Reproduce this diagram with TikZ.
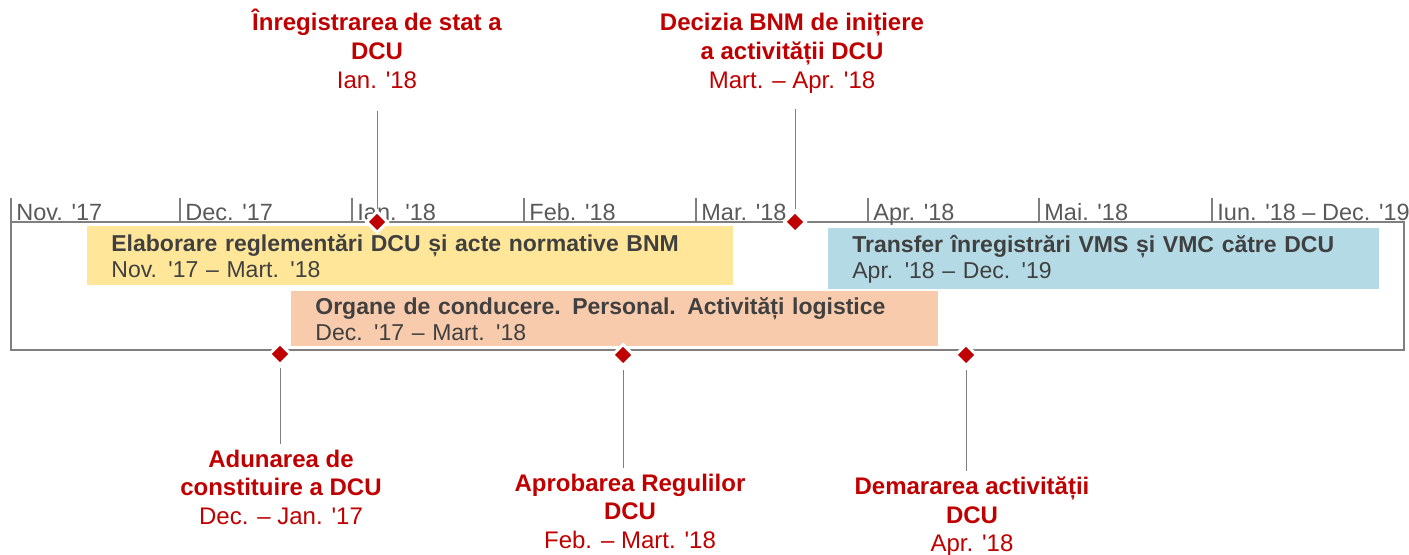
\documentclass[tikz,border=0pt]{standalone}
\usepackage{fontspec}
\setmainfont{Liberation Sans}[Ligatures=TeXOff]
\usepackage{tikz}
\usetikzlibrary{shapes, calc, positioning}

\definecolor{dcured}{HTML}{C00000}
\definecolor{bargold}{HTML}{FFE699}
\definecolor{barpeach}{HTML}{F8CBAD}
\definecolor{barblue}{HTML}{B4DAE6}
\definecolor{textgray}{HTML}{404040}
\definecolor{monthgray}{HTML}{595959}
\definecolor{linegray}{HTML}{7F7F7F}

\begin{document}
\begin{tikzpicture}[x=0.5pt, y=-0.5pt]
	\tikzstyle{frame} = [draw=linegray, line width=0.6pt]
	\tikzstyle{month} = [anchor=base west, inner xsep=2.5pt, inner ysep=0pt, text=monthgray, font=\fontsize{11.75}{14}\selectfont]
	\tikzstyle{bar} = [anchor=north west, inner xsep=12pt, inner ysep=0pt, align=left, text=textgray, font=\fontsize{11.5}{13}\selectfont]
	\tikzstyle{milestone} = [diamond, fill=dcured, draw=white, line width=1.5pt, minimum size=11pt, inner sep=0pt]
	\tikzstyle{event} = [text=dcured, align=center, inner sep=0pt, text depth=0pt, font=\fontsize{12}{14.3}\selectfont]
	\tikzstyle{leader} = [draw=linegray, line width=0.5pt]

	\useasboundingbox (0,0) rectangle (1409,555);

	% axis frame and month ticks
	\draw[frame] (11,222) rectangle (1404,350);
	\foreach \x in {11, 180, 352, 524, 696, 868, 1039, 1212}
		\draw[frame] (\x,198) -- (\x,222);

	\node[month] (m1) at (11,220.5) {Nov. '17};
	\node[month] (m2) at (180,220.5) {Dec. '17};
	\node[month] (m3) at (352,220.5) {Ian. '18};
	\node[month] (m4) at (524,220.5) {Feb. '18};
	\node[month] (m5) at (696,220.5) {Mar. '18};
	\node[month] (m6) at (868,220.5) {Apr. '18};
	\node[month] (m7) at (1039,220.5) {Mai. '18};
	\node[month] (m8) at (1212,220.5) {Iun. '18 – Dec. '19};

	% activity bars
	\node[bar, fill=bargold, minimum width=323pt, minimum height=29.5pt, text width=299pt] (reg) at (87,226)
		{\textbf{Elaborare reglementări DCU și acte normative BNM}\\Nov. '17 – Mart. '18};
	\node[bar, fill=barpeach, minimum width=323.5pt, minimum height=27.5pt, text width=299.5pt] (org) at (291,291)
		{\textbf{Organe de conducere. Personal. Activități logistice}\\Dec. '17 – Mart. '18};
	\node[bar, fill=barblue, minimum width=275.5pt, minimum height=30.5pt, text width=251.5pt] (tra) at (828,228)
		{\textbf{Transfer înregistrări VMS și VMC către DCU}\\Apr. '18 – Dec. '19};

	% milestones
	\node[milestone] (d1) at (377,222) {};
	\node[milestone] (d2) at (795,222) {};
	\node[milestone] (d3) at (280,354) {};
	\node[milestone] (d4) at (623,355) {};
	\node[milestone] (d5) at (966,355) {};

	\node[event, above=60.5pt of d1] (t1) {\textbf{Înregistrarea de stat a}\\\textbf{DCU}\\Ian. '18};
	\node[event, above=60.5pt of d2, xshift=-1.5pt] (t2) {\textbf{Decizia BNM de inițiere}\\\textbf{a activității DCU}\\Mart. – Apr. '18};
	\node[event, below=41.5pt of d3, xshift=0.5pt] (b1) {\textbf{Adunarea de}\\\textbf{constituire a DCU}\\Dec. – Jan. '17};
	\node[event, below=53pt of d4, xshift=3.5pt] (b2) {\textbf{Aprobarea Regulilor}\\\textbf{DCU}\\Feb. – Mart. '18};
	\node[event, below=54.5pt of d5, xshift=3pt] (b3) {\textbf{Demararea activității}\\\textbf{DCU}\\Apr. '18};

	\path[leader]
		(d1.north) edge[shorten >=11.5pt] (d1.north |- t1.south)
		(d2.north) edge[shorten >=10.5pt] (d2.north |- t2.south)
		(d3.south) edge[shorten <=1pt, shorten >=2.5pt] (d3.south |- b1.north)
		(d4.south) edge[shorten <=1.5pt, shorten >=2.5pt] (d4.south |- b2.north)
		(d5.south) edge[shorten <=1.5pt, shorten >=2.5pt] (d5.south |- b3.north)
	;
\end{tikzpicture}
\end{document}
